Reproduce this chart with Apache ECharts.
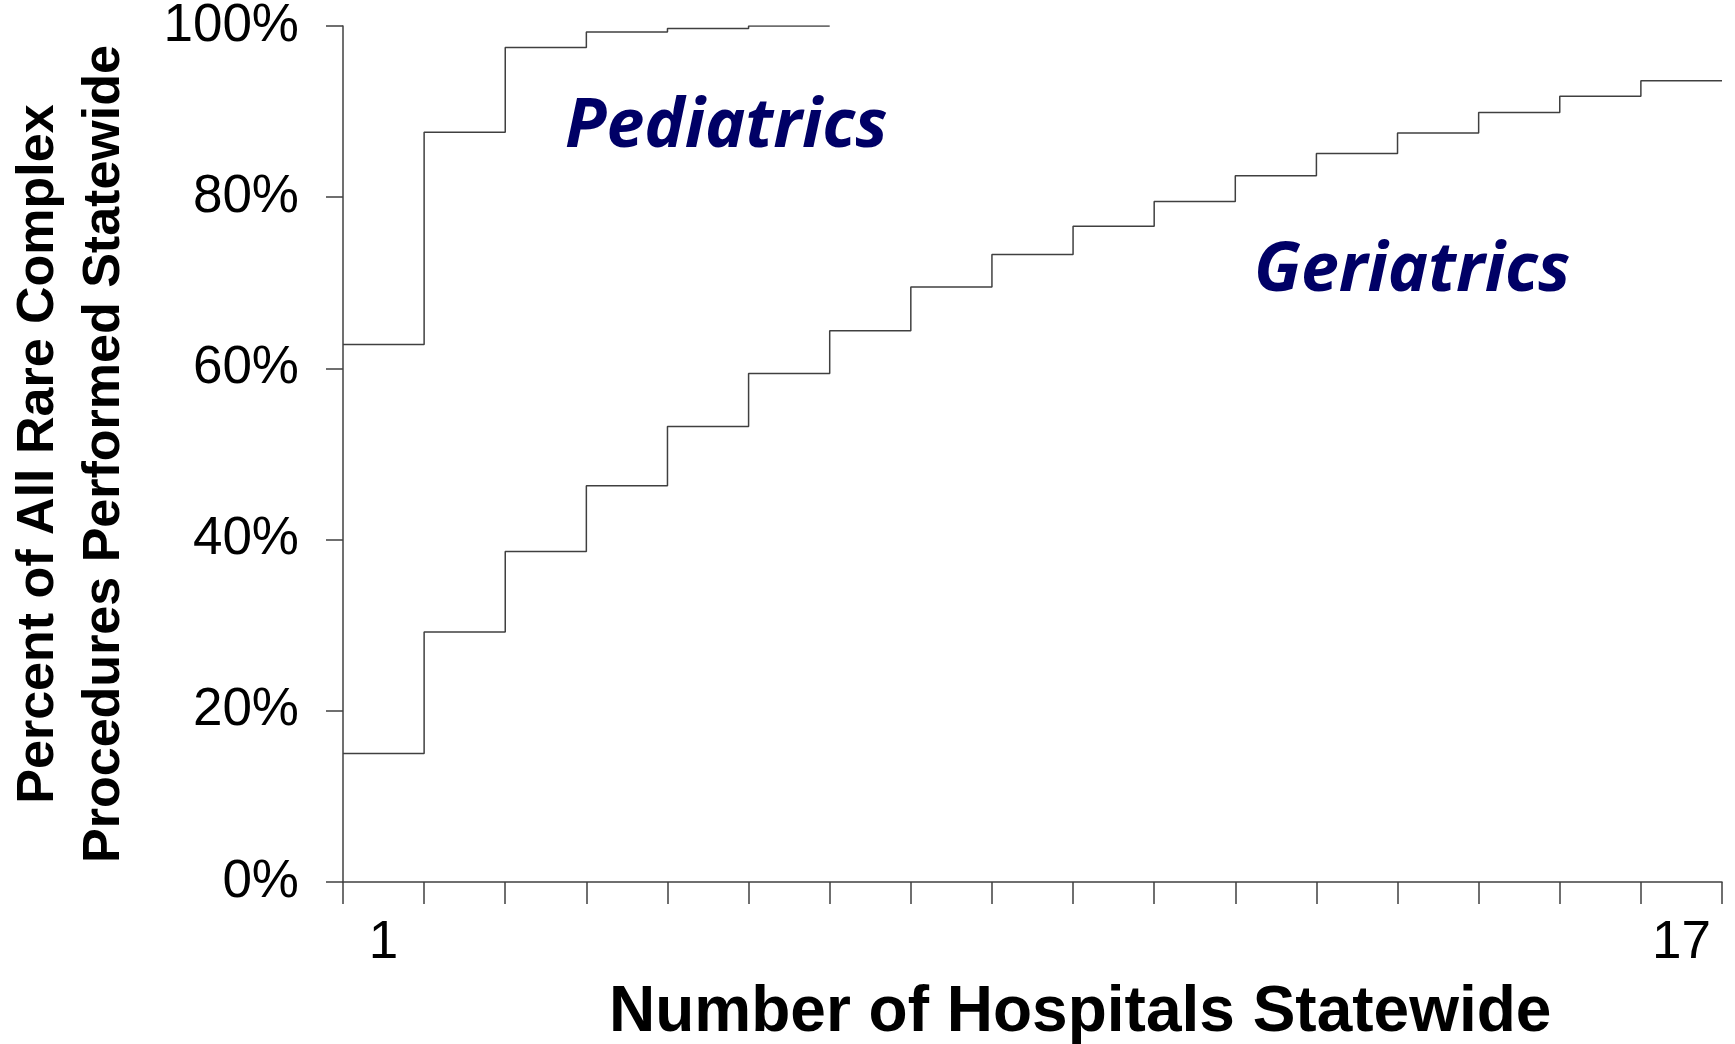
<!DOCTYPE html>
<html><head><meta charset="utf-8">
<script src="https://cdn.jsdelivr.net/npm/echarts@6/dist/echarts.min.js"></script>
<style>html,body{margin:0;padding:0;background:#fff}#c{width:1735px;height:1044px}</style>
</head><body><div id="c"></div>
<script>
// ---- data ----
const hospitals = ['1','2','3','4','5','6','7','8','9','10','11','12','13','14','15','16','17'];
const shownHospitalLabels = ['1','17'];
const yTickValues = [0, 20, 40, 60, 80, 100];
const pediatrics = [62.8, 87.6, 97.5, 99.3, 99.7, 100];
const geriatrics = [15.0, 29.2, 38.6, 46.3, 53.2, 59.4, 64.4, 69.5, 73.3, 76.6, 79.5, 82.5, 85.1, 87.5, 89.9, 91.8, 93.6];
const seriesNames = ['Pediatrics', 'Geriatrics'];
const xTitle = 'Number of Hospitals Statewide';
const yTitle = 'Percent of All Rare Complex\nProcedures Performed Statewide';

// each hospital count occupies one band [i, i+1]
function stepData(vals) {
  const d = vals.map((v, i) => [i, v]);
  d.push([vals.length, vals[vals.length - 1]]);
  return d;
}

const lineColor = '#404040';
const chart = echarts.init(document.getElementById('c'), null, {renderer: 'canvas'});
chart.setOption({
  animation: false,
  backgroundColor: '#ffffff',
  grid: {left: 343, right: 13, top: 26, bottom: 162, containLabel: false, outerBoundsMode: 'none'},
  xAxis: [
    {
      type: 'category',
      data: hospitals,
      boundaryGap: true,
      axisLine: {show: true, lineStyle: {color: lineColor, width: 1.5}},
      axisTick: {show: true, interval: 0, length: 22, lineStyle: {color: lineColor, width: 1.5}},
      axisLabel: {
        interval: (i, v) => shownHospitalLabels.includes(v),
        margin: 35,
        fontSize: 53,
        fontFamily: 'Liberation Sans, Arial, sans-serif',
        color: '#000'
      },
      splitLine: {show: false}
    },
    {
      type: 'value', min: 0, max: hospitals.length, show: false
    }
  ],
  yAxis: {
    type: 'value',
    min: yTickValues[0],
    max: yTickValues[yTickValues.length - 1],
    interval: yTickValues[1] - yTickValues[0],
    axisLine: {show: true, lineStyle: {color: lineColor, width: 1.5}},
    axisTick: {show: true, length: 17, lineStyle: {color: lineColor, width: 1.5}},
    axisLabel: {
      formatter: '{value}%',
      margin: 44,
      fontSize: 53,
      fontFamily: 'Liberation Sans, Arial, sans-serif',
      color: '#000'
    },
    splitLine: {show: false},
    name: yTitle,
    nameLocation: 'middle',
    nameRotate: 90,
    nameGap: 205,
    nameTextStyle: {
      fontSize: 52, fontWeight: 'bold', lineHeight: 66, align: 'center',
      fontFamily: 'Liberation Sans, Arial, sans-serif', color: '#000'
    }
  },
  series: [
    {
      name: seriesNames[0], type: 'line', xAxisIndex: 1, step: 'end',
      data: stepData(pediatrics), symbol: 'none',
      lineStyle: {color: lineColor, width: 1.5}
    },
    {
      name: seriesNames[1], type: 'line', xAxisIndex: 1, step: 'end',
      data: stepData(geriatrics), symbol: 'none',
      lineStyle: {color: lineColor, width: 1.5}
    }
  ],
  graphic: [
    {
      type: 'text', left: 609, top: 981, silent: true,
      style: {text: xTitle, fontSize: 64, fontWeight: 'bold',
        fontFamily: 'Liberation Sans, Arial, sans-serif', fill: '#000'}
    },
    {
      type: 'text', left: 565, top: 94, silent: true,
      style: {text: seriesNames[0], fontSize: 68, fontWeight: 'bold', fontStyle: 'italic',
        fontFamily: 'Noto Sans, DejaVu Sans, sans-serif', fill: '#000066'}
    },
    {
      type: 'text', left: 1254, top: 238, silent: true,
      style: {text: seriesNames[1], fontSize: 68, fontWeight: 'bold', fontStyle: 'italic',
        fontFamily: 'Noto Sans, DejaVu Sans, sans-serif', fill: '#000066'}
    }
  ]
});
</script>
</body></html>
